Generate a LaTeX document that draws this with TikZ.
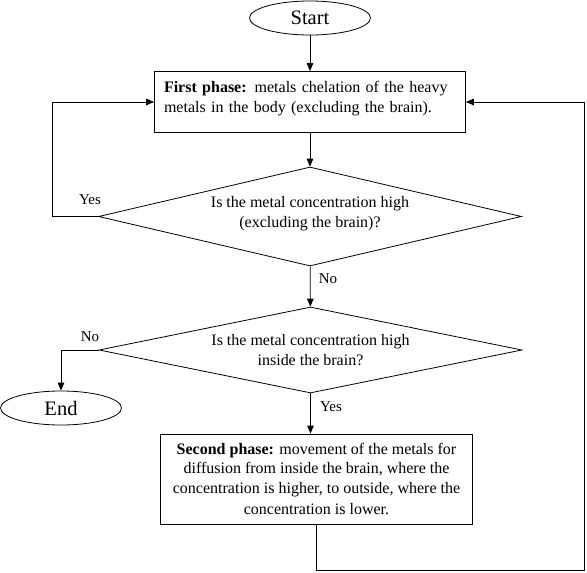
\documentclass[tikz,border=0pt]{standalone}
\usepackage{fontspec}
\setmainfont{Liberation Serif}
\usetikzlibrary{shapes.geometric,arrows.meta}
\newcommand{\lift}{\rule[-10pt]{0pt}{10pt}}
\tikzset{
  terminal/.style={shape=ellipse,draw=black,minimum width=121pt,minimum height=34pt,inner sep=0pt,font=\fontsize{20.5}{24}\selectfont},
  phasebox/.style={shape=rectangle,draw=black,inner sep=0pt,font=\fontsize{16}{19.5}\selectfont},
  question/.style={shape=diamond,draw=black,minimum width=423pt,aspect=4.3,inner sep=0pt,align=center,font=\fontsize{16}{20}\selectfont},
  answer/.style={font=\fontsize{15}{18}\selectfont,inner sep=0pt},
  flow/.style={-{Triangle[length=8pt,width=6.5pt]}}
}
\begin{document}
\begin{tikzpicture}[x=1pt,y=-1pt,line width=0.8pt]
    \useasboundingbox (0,0) rectangle (587,573);
    \node[terminal] (start) at (310,18) {Start};
    \node[phasebox,minimum width=311pt,minimum height=61pt,text width=292pt,align=left] (first) at (310,102)
        {\textbf{First phase:} metals chelation of the heavy\\metals in the body (excluding the brain).\lift};
    \node[question,minimum height=99pt] (bodycheck) at (310,216.5) {Is the metal concentration high\\(excluding the brain)?\lift};
    \node[question,minimum height=86pt] (braincheck) at (310.5,350) {Is the metal concentration high\\inside the brain?};
    \node[terminal] (finish) at (61,408) {End};
    \node[phasebox,minimum width=312pt,minimum height=90pt,align=center] (second) at (316.5,479)
        {\textbf{Second phase:} movement of the metals for\\diffusion from inside the brain, where the\\concentration is higher, to outside, where the\\[2pt]concentration is lower.};
    \coordinate (rail) at (584,570);

    \node[answer] (yesA) at (90,200) {Yes};
    \node[answer] (noA) at (328,279) {No};
    \node[answer] (noB) at (90,337) {No};
    \node[answer] (yesB) at (331,407) {Yes};

    \draw[flow] (start) -- (first);
    \draw[flow] (first) -- (bodycheck);
    \draw[flow] (bodycheck.west) -- ++(-46,0) |- (first.west);
    \draw[flow] (bodycheck) -- (braincheck);
    \draw[flow] (braincheck.west) -| (finish.north);
    \draw[flow] (braincheck.south) -- (braincheck.south |- second.north);
    \draw[flow] (second.south) |- (rail) |- (first.east);
\end{tikzpicture}
\end{document}
